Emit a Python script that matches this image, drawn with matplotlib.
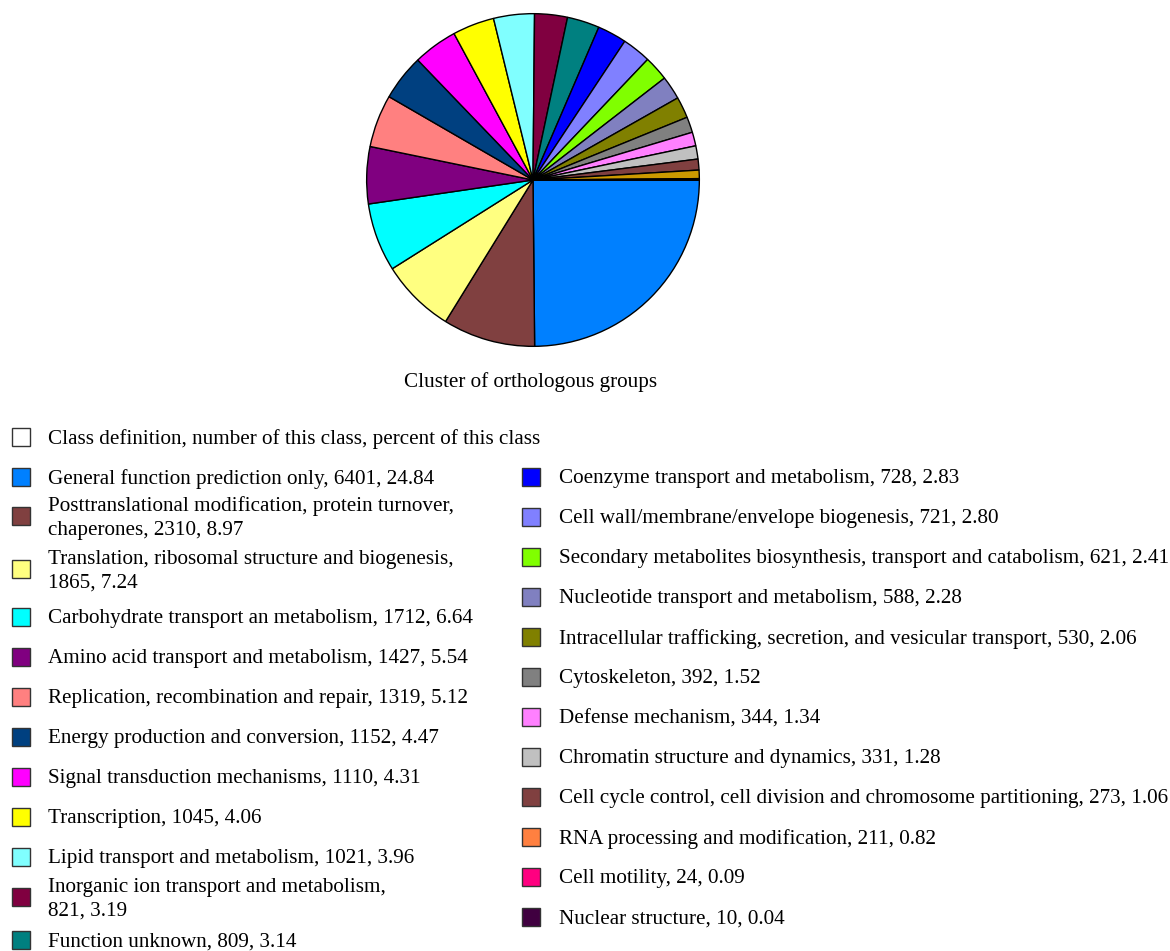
import matplotlib
matplotlib.use("Agg")
import matplotlib.pyplot as plt
from matplotlib.patches import Rectangle

# COG classes: label, count, percent
labels = [
    "General function prediction only",
    "Posttranslational modification, protein turnover,\nchaperones",
    "Translation, ribosomal structure and biogenesis,\n",
    "Carbohydrate transport an metabolism",
    "Amino acid transport and metabolism",
    "Replication, recombination and repair",
    "Energy production and conversion",
    "Signal transduction mechanisms",
    "Transcription",
    "Lipid transport and metabolism",
    "Inorganic ion transport and metabolism,\n",
    "Function unknown",
    "Coenzyme transport and metabolism",
    "Cell wall/membrane/envelope biogenesis",
    "Secondary metabolites biosynthesis, transport and catabolism",
    "Nucleotide transport and metabolism",
    "Intracellular trafficking, secretion, and vesicular transport",
    "Cytoskeleton",
    "Defense mechanism",
    "Chromatin structure and dynamics",
    "Cell cycle control, cell division and chromosome partitioning",
    "RNA processing and modification",
    "Cell motility",
    "Nuclear structure",
]
counts = [6401, 2310, 1865, 1712, 1427, 1319, 1152, 1110, 1045, 1021, 821, 809,
          728, 721, 621, 588, 530, 392, 344, 331, 273, 211, 24, 10]
percents = ["24.84", "8.97", "7.24", "6.64", "5.54", "5.12", "4.47", "4.31",
            "4.06", "3.96", "3.19", "3.14", "2.83", "2.80", "2.41", "2.28",
            "2.06", "1.52", "1.34", "1.28", "1.06", "0.82", "0.09", "0.04"]
colors = ["#0080FF", "#804040", "#FFFF80", "#00FFFF", "#800080", "#FF8080",
          "#004080", "#FF00FF", "#FFFF00", "#80FFFF", "#800040", "#008080",
          "#0000FF", "#8080FF", "#80FF00", "#8080C0", "#808000", "#808080",
          "#FF80FF", "#C0C0C0", "#804040", "#FF8040", "#FF0080", "#400040"]
# the RNA slice is drawn gold in the pie, orange in the key
pie_colors = list(colors)
pie_colors[21] = "#CC9900"

W, H = 1170, 951
fig = plt.figure(figsize=(W / 100, H / 100), dpi=100)
plt.rcParams["font.family"] = ["Liberation Serif", "DejaVu Serif"]

# --- pie ---
cx, cy, r = 533, 180, 168
ax = fig.add_axes([(cx - r) / W, 1 - (cy + r) / H, 2 * r / W, 2 * r / H])
ax.pie(counts, colors=pie_colors, startangle=0, counterclock=False,
       wedgeprops=dict(edgecolor="black", linewidth=1.0))
ax.set_xlim(-1.01, 1.01)
ax.set_ylim(-1.01, 1.01)
ax.set_aspect("equal")

fs = 15.2
fig.text(531 / W, 1 - 382 / H, "Cluster of orthologous groups",
         ha="center", va="center", fontsize=fs)

# --- key ---
box = 18


def key_row(x_box, x_text, y, color, text):
    fig.patches.append(Rectangle(((x_box) / W, 1 - (y + box / 2) / H),
                                 box / W, box / H, transform=fig.transFigure,
                                 facecolor=color, edgecolor="#333333",
                                 linewidth=1.0))
    fig.text(x_text / W, 1 - (y + 2) / H, text, ha="left", va="center",
             fontsize=fs, linespacing=1.3)


key_row(12, 48, 437, "white",
        "Class definition, number of this class, percent of this class")

left_y = [477, 516, 569, 617, 657, 697, 737, 777, 817, 857, 897, 940]
for i, y in enumerate(left_y):
    sep = "" if labels[i].endswith("\n") else ", "
    txt = f"{labels[i]}{sep}{counts[i]}, {percents[i]}"
    key_row(12, 48, y, colors[i], txt)

for k, i in enumerate(range(12, 24)):
    y = 477 + 40 * k
    txt = f"{labels[i]}, {counts[i]}, {percents[i]}"
    key_row(522, 559, y, colors[i], txt)

fig.savefig("out.png", dpi=100)
